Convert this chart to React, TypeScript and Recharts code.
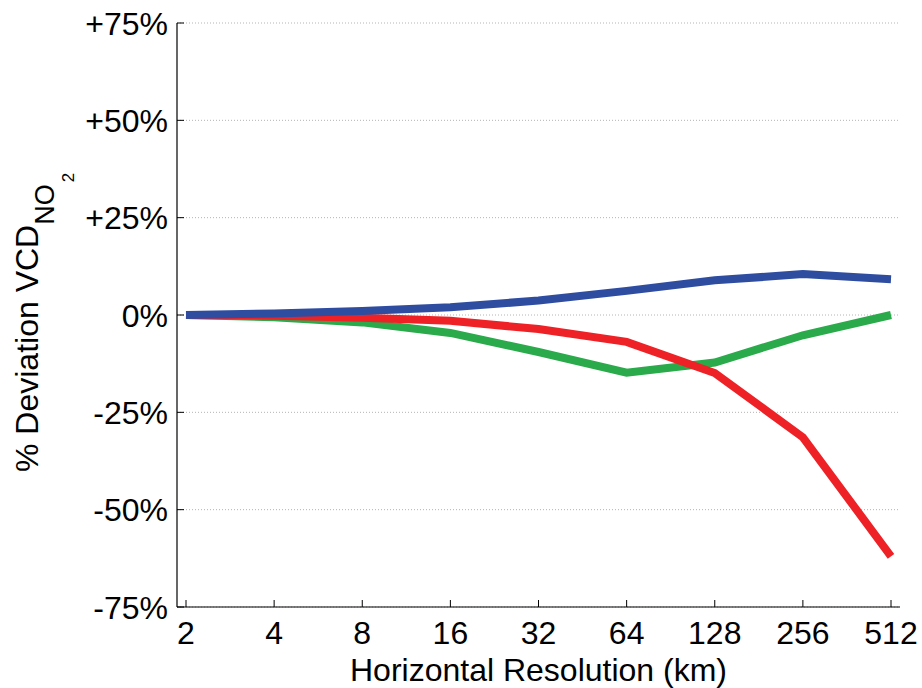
import { LineChart, Line, XAxis, YAxis, CartesianGrid } from "recharts";

const resolutions = ["2", "4", "8", "16", "32", "64", "128", "256", "512"];
const blueDev = [0, 0.4, 1.0, 2.0, 3.7, 6.2, 8.9, 10.5, 9.2];
const redDev = [0, -0.2, -0.7, -1.5, -3.6, -6.9, -14.9, -31.4, -62];
const greenDev = [0, -0.6, -1.9, -4.6, -9.5, -14.8, -12.2, -5.2, 0];
const yTicks = [-75, -50, -25, 0, 25, 50, 75];

const data = resolutions.map((res, i) => ({
  res,
  blue: blueDev[i],
  red: redDev[i],
  green: greenDev[i],
}));

const FONT = "Arial, 'Liberation Sans', Helvetica, sans-serif";

function YTick({ x, y, payload }: any) {
  const v = payload.value as number;
  const text = v > 0 ? `+${v}%` : `${v}%`;
  return (
    <g>
      <line x1={x} x2={x + 7} y1={y} y2={y} stroke="#000" strokeWidth={1} />
      <text x={x - 9} y={y + 11.5} textAnchor="end" fontSize={32} fontFamily={FONT} fill="#000">
        {text}
      </text>
    </g>
  );
}

function XTick({ x, y, payload }: any) {
  return (
    <g>
      <line x1={x} x2={x} y1={y} y2={y - 7} stroke="#000" strokeWidth={1} />
      <text x={x} y={y + 37} textAnchor="middle" fontSize={32} fontFamily={FONT} fill="#000">
        {payload.value}
      </text>
    </g>
  );
}

// rotated label with nested subscript (VCD_{NO_2})
const yLabel = () => (
  <text transform="translate(38,472) rotate(-90)" fontSize={32} fontFamily={FONT} fill="#000">
    <tspan x={0} y={0}>% Deviation VCD</tspan>
    <tspan dy={16} fontSize={27}>NO</tspan>
    <tspan dx={2} dy={20} fontSize={17}>2</tspan>
  </text>
);

const xLabel = (props: any) => {
  const vb = props.viewBox || { x: 177, width: 723 };
  return (
    <text x={vb.x + vb.width / 2} y={681} textAnchor="middle" fontSize={32} fontFamily={FONT} fill="#000">
      Horizontal Resolution (km)
    </text>
  );
};

export default function App() {
  return (
    <div style={{ position: "absolute", left: 0, top: 0, width: 922, height: 688, background: "#fff" }}>
      <LineChart
        width={922}
        height={688}
        data={data}
        margin={{ top: 23, right: 22, bottom: 41, left: 117 }}
      >
        <CartesianGrid
          horizontal
          vertical={false}
          stroke="#b4b4b4"
          strokeDasharray="1 2"
        />
        <XAxis
          dataKey="res"
          height={40}
          padding={{ left: 9, right: 9 }}
          axisLine={{ stroke: "#000", strokeWidth: 1.2 }}
          tickLine={false}
          tickSize={0}
          tickMargin={0}
          tick={<XTick />}
          interval={0}
          label={xLabel}
        />
        <YAxis
          width={60}
          domain={[-75, 75]}
          ticks={yTicks}
          type="number"
          axisLine={{ stroke: "#000", strokeWidth: 1.2 }}
          tickLine={false}
          tickSize={0}
          tickMargin={0}
          tick={<YTick />}
          interval={0}
          label={yLabel}
        />
        <Line dataKey="green" stroke="#2AAA4A" strokeWidth={8} dot={false} isAnimationActive={false} />
        <Line dataKey="red" stroke="#EE2226" strokeWidth={8} dot={false} isAnimationActive={false} />
        <Line dataKey="blue" stroke="#2E4DA0" strokeWidth={8} dot={false} isAnimationActive={false} />
      </LineChart>
    </div>
  );
}
